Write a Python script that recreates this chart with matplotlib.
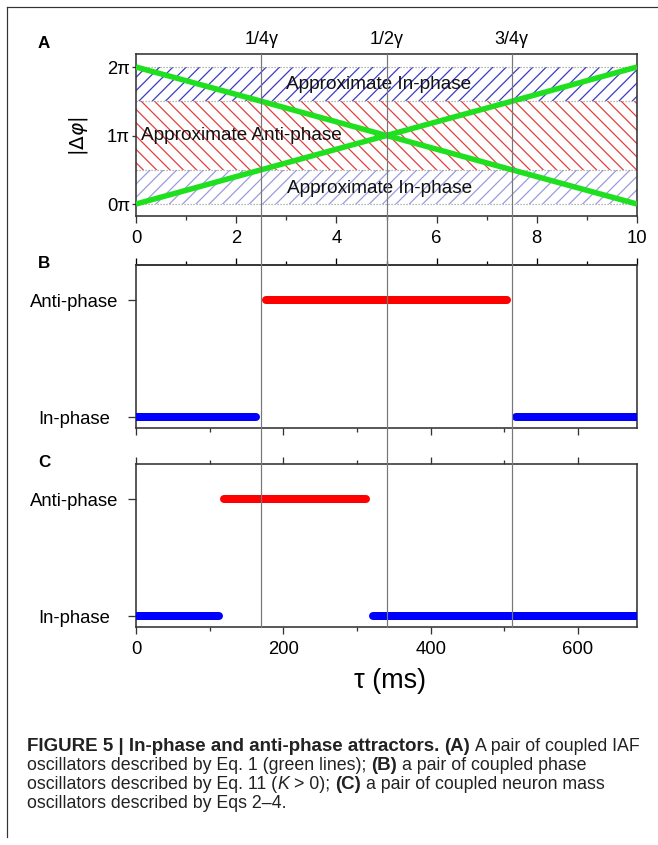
import numpy as np
import matplotlib
matplotlib.use('Agg')
import matplotlib.pyplot as plt
from matplotlib.lines import Line2D
from matplotlib.transforms import blended_transform_factory

plt.rcParams['font.family'] = ['Liberation Sans', 'DejaVu Sans']
plt.rcParams['hatch.linewidth'] = 0.75

DPI = 120
W, H = 658, 845

def pt(px):
    return px * 72.0 / DPI

def fx(px):
    return px / W

def fy(px):
    return 1 - px / H

# ---- data ----
a_xmax = 10
tau_max = 680
gamma_pos = [2.5, 5.0, 7.5]
gamma_labels = ['1/4γ', '1/2γ', '3/4γ']
phase_ticks = [0, 1, 2]
phase_labels = ['0π', '1π', '2π']
green_x = [0, 10]
green_down = [2, 0]
green_up = [0, 2]
in_top = (1.5, 2.0)
anti_band = (0.5, 1.5)
in_bottom = (0.0, 0.5)

state_ticks = [0, 1]
state_labels = ['In-phase', 'Anti-phase']
b_inphase = [(0, 163), (516, 680)]
b_antiphase = [(177, 503)]
c_inphase = [(0, 113), (321, 680)]
c_antiphase = [(120, 312)]

caption = [
    [("FIGURE 5 | In-phase and anti-phase attractors.", 'b'), (" (A)", 'b'), (" A pair of coupled IAF", 'n')],
    [("oscillators described by Eq. 1 (green lines);", 'n'), (" (B)", 'b'), (" a pair of coupled phase", 'n')],
    [("oscillators described by Eq. 11 (", 'n'), ("K", 'i'), (" > 0);", 'n'), (" (C)", 'b'),
     (" a pair of coupled neuron mass", 'n')],
    [("oscillators described by Eqs 2–4.", 'n')],
]

fig = plt.figure(figsize=(W / DPI, H / DPI), dpi=DPI, facecolor='white')

left, right = 136, 637
def add_ax(top, bottom):
    return fig.add_axes([fx(left), fy(bottom), fx(right - left), (bottom - top) / H])

axA = add_ax(54, 216)
axB = add_ax(265, 428)
axC = add_ax(464, 627)

spine_c = '#333333'
tick_fs = pt(18.5)

# ---- panel A ----
axA.set_xlim(0, a_xmax)
axA.set_ylim(-0.175, 2.19)
axA.fill_between([0, a_xmax], in_top[0], in_top[1], facecolor='none', edgecolor='#3c3cc4',
                 hatch='///', linewidth=0)
axA.fill_between([0, a_xmax], anti_band[0], anti_band[1], facecolor='none', edgecolor='#e04040',
                 hatch='\\\\\\', linewidth=0)
axA.fill_between([0, a_xmax], in_bottom[0], in_bottom[1], facecolor='none', edgecolor='#9c9ce2',
                 hatch='///', linewidth=0)
for yv in [0, 0.5, 1.5, 2]:
    axA.axhline(yv, color='#999999', lw=pt(1.2), ls=(0, (1, 1.5)))
axA.plot(green_x, green_down, color='#1ee01e', lw=pt(5.5), solid_capstyle='butt', zorder=4)
axA.plot(green_x, green_up, color='#1ee01e', lw=pt(5.5), solid_capstyle='butt', zorder=4)
axA.text(4.85, 1.74, 'Approximate In-phase', fontsize=pt(19), ha='center', va='center', color='#111111')
axA.text(0.1, 1.0, 'Approximate Anti-phase', fontsize=pt(19), ha='left', va='center', color='#111111')
axA.text(4.87, 0.23, 'Approximate In-phase', fontsize=pt(19), ha='center', va='center', color='#111111')
axA.set_xticks(range(0, 11, 2))
axA.set_xticks(range(1, 10, 2), minor=True)
axA.set_yticks(phase_ticks)
axA.set_yticklabels(phase_labels)
axA.tick_params(axis='x', which='major', length=pt(7), width=pt(1.3), pad=pt(7), labelsize=tick_fs)
axA.tick_params(axis='x', which='minor', length=pt(4), width=pt(1.3))
axA.tick_params(axis='y', length=pt(4), width=pt(1.3), pad=pt(2), labelsize=tick_fs)

# ---- panels B and C ----
def state_panel(ax, inphase, antiphase):
    ax.set_xlim(0, tau_max)
    ax.set_ylim(-0.094, 1.30)
    for s, e in inphase:
        ax.plot([s, e], [0, 0], color='#0000ff', lw=pt(8), solid_capstyle='round', zorder=3)
    for s, e in antiphase:
        ax.plot([s, e], [1, 1], color='#ff0000', lw=pt(8), solid_capstyle='round', zorder=3)
    ax.set_xticks(range(0, 601, 200))
    ax.set_xticks(range(100, 600, 200), minor=True)
    ax.set_yticks(state_ticks)
    ax.set_yticklabels(state_labels)
    for lab in ax.get_yticklabels():
        lab.set_ha('center')
    ax.tick_params(axis='y', length=pt(8), width=pt(1.3), pad=pt(136 - 8 - 74), labelsize=tick_fs)
    ax.tick_params(axis='x', which='major', length=pt(7), width=pt(1.3), pad=pt(7), labelsize=tick_fs)
    ax.tick_params(axis='x', which='minor', length=pt(4), width=pt(1.3))

state_panel(axB, b_inphase, b_antiphase)
state_panel(axC, c_inphase, c_antiphase)
axB.tick_params(axis='x', which='both', labelbottom=False)
axC.tick_params(axis='x', which='both', top=True)

secB = axB.secondary_xaxis('top', functions=(lambda x: x * a_xmax / tau_max, lambda x: x * tau_max / a_xmax))
secB.set_xticks(range(0, 11, 2))
secB.set_xticks(range(1, 10, 2), minor=True)
secB.tick_params(axis='x', which='major', length=pt(7), width=pt(1.3), labeltop=False)
secB.tick_params(axis='x', which='minor', length=pt(4), width=pt(1.3))
secB.spines['top'].set_linewidth(pt(1.6))
secB.spines['top'].set_color(spine_c)

for ax in (axA, axB, axC):
    for sp in ax.spines.values():
        sp.set_linewidth(pt(1.6))
        sp.set_color(spine_c)
    ax.tick_params(which='both', color=spine_c, direction='out')

# vertical guide lines through all panels
trans = blended_transform_factory(axA.transData, fig.transFigure)
for xv, lab in zip(gamma_pos, gamma_labels):
    fig.add_artist(Line2D([xv, xv], [fy(627), fy(54)], transform=trans, color='#777777',
                          lw=pt(1.2), zorder=5))
    fig.text(xv, fy(40), lab, transform=trans, ha='center', va='center', fontsize=pt(18))

# labels
fig.text(fx(79), fy(136), r'$|\Delta\varphi|$', rotation=90, ha='center', va='center', fontsize=pt(20))
fig.text(fx(390), fy(681), 'τ (ms)', ha='center', va='center', fontsize=pt(27))
for lab, yv in zip(['A', 'B', 'C'], [44, 263, 462]):
    fig.text(fx(44), fy(yv), lab, ha='center', va='center', fontsize=pt(17), fontweight='bold')

# frame lines
fig.add_artist(Line2D([fx(7), 1], [fy(7), fy(7)], transform=fig.transFigure, color='#333333', lw=pt(1.2)))
fig.add_artist(Line2D([fx(7), fx(7)], [fy(7), fy(837)], transform=fig.transFigure, color='#333333', lw=pt(1.2)))

# caption with mixed styles
cap_fs = pt(17.8)
bold_fs = pt(18.8)
renderer = fig.canvas.get_renderer()
t1 = fig.text(0, 0, 'x x', fontsize=cap_fs)
t2 = fig.text(0, 0, 'xx', fontsize=cap_fs)
space_w = t1.get_window_extent(renderer).width - t2.get_window_extent(renderer).width
t1.remove()
t2.remove()
for i, line in enumerate(caption):
    base = 751 + 19 * i
    x = 27
    for txt, st in line:
        if txt.startswith(' '):
            x += space_w
            txt = txt[1:]
        t = fig.text(fx(x), fy(base), txt, fontsize=bold_fs if st == 'b' else cap_fs,
                     va='baseline', ha='left',
                     fontweight='bold' if st == 'b' else 'normal',
                     style='italic' if st == 'i' else 'normal', color='#222222')
        x = t.get_window_extent(renderer).x1

fig.savefig('out.png', dpi=DPI, facecolor='white')
